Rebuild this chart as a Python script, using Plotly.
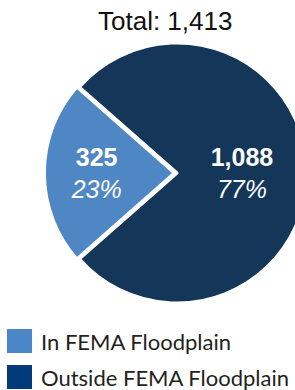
import plotly.graph_objects as go

# ---- data ----
labels = ["In FEMA Floodplain", "Outside FEMA Floodplain"]
values = [325, 1088]
pie_colors = ["#4f87c5", "#133659"]
legend_colors = ["#4a86c8", "#023a7a"]
title_text = "Total: 1,413"

W, H = 354, 390


def px_x(x):
    return x / W


def px_y(y):
    return 1 - y / H


R = 130
PULL = 0.02
CY = 173
half = R * (1 + PULL)

fig = go.Figure()
fig.add_trace(go.Pie(
    labels=labels,
    values=values,
    sort=False,
    direction="clockwise",
    rotation=228.6,
    pull=[PULL, 0],
    marker=dict(colors=pie_colors, line=dict(color="white", width=3)),
    texttemplate="<b>%{value:,}</b><br><i>%{percent:.0%}</i>",
    textposition="inside",
    insidetextorientation="horizontal",
    textfont=dict(family="Liberation Sans, Arial, sans-serif", size=25, color="white"),
    hoverinfo="label+value+percent",
    showlegend=False,
    domain=dict(x=[0, 1], y=[px_y(CY + half), px_y(CY - half)]),
))

annotations = [dict(
    text=title_text, x=px_x(165), y=px_y(21), xref="paper", yref="paper",
    xanchor="center", yanchor="middle", showarrow=False,
    font=dict(family="Liberation Sans, Arial, sans-serif", size=26, color="#111111"),
)]
shapes = []
rows_y = [341, 377]
for lab, col, cy in zip(labels, legend_colors, rows_y):
    shapes.append(dict(
        type="rect", xref="paper", yref="paper",
        x0=px_x(7), x1=px_x(32), y0=px_y(cy + 12), y1=px_y(cy - 12),
        fillcolor=col, line=dict(width=0), layer="above",
    ))
    annotations.append(dict(
        text=lab, x=px_x(39), y=px_y(cy), xref="paper", yref="paper",
        xanchor="left", yanchor="middle", showarrow=False,
        font=dict(family="Lato, sans-serif", size=22, color="#231f20"),
    ))

fig.update_layout(
    width=W, height=H,
    margin=dict(l=0, r=0, t=0, b=0),
    paper_bgcolor="white",
    plot_bgcolor="white",
    annotations=annotations,
    shapes=shapes,
    showlegend=False,
)

fig.write_html(
    "out.html",
    post_script="document.body.style.margin='0';document.body.style.overflow='hidden';document.documentElement.style.overflow='hidden';",
)
